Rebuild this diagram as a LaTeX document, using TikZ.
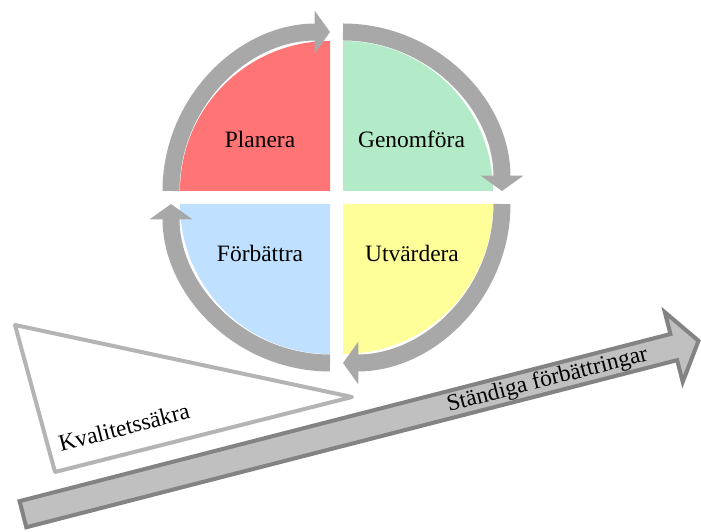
\documentclass[tikz,border=0pt]{standalone}
\usepackage{fontspec}
\setmainfont{Liberation Serif}
\usepackage{tikz}
\usetikzlibrary{arrows.meta,calc}
\definecolor{planred}{HTML}{FF7575}
\definecolor{gengreen}{HTML}{B3EBC8}
\definecolor{forblue}{HTML}{C0E0FF}
\definecolor{utvyellow}{HTML}{FFFF99}
\definecolor{cycgray}{HTML}{A8A8A8}
\definecolor{trigray}{HTML}{B4B4B4}
\definecolor{arrfill}{HTML}{C0C0C0}
\definecolor{arrdraw}{HTML}{838383}
\newcommand{\lbl}{\fontsize{17.6}{20}\selectfont}

\begin{document}
\begin{tikzpicture}[x=0.75pt,y=0.75pt,>={Triangle[width=31.5pt,length=11.5pt]},
  cyc/.style={->,draw=cycgray,line width=12.75pt},
  word/.style={font=\lbl,anchor=base,inner sep=0pt}]
\useasboundingbox (0,0) rectangle (701,532);
\newcommand*{\rquad}{112.5pt}; \newcommand*{\rcyc}{119.25pt};
\coordinate (pl) at (330,341);
\coordinate (ge) at (343,341);
\coordinate (ut) at (343,328);
\coordinate (fo) at (330,328);
% quadrants
\fill[planred] (pl) -- ++(-150,0) arc[start angle=180,end angle=90,radius=\rquad] -- cycle;
\fill[gengreen] (ge) -- ++(0,150) arc[start angle=90,end angle=0,radius=\rquad] -- cycle;
\fill[utvyellow] (ut) -- ++(150,0) arc[start angle=0,end angle=-90,radius=\rquad] -- cycle;
\fill[forblue] (fo) -- ++(0,-150) arc[start angle=270,end angle=180,radius=\rquad] -- cycle;
% cycle arrows
\draw[cyc] ($(pl)+(-159,0)$) arc[start angle=180,end angle=90,radius=\rcyc];
\draw[cyc] ($(ge)+(0,159)$) arc[start angle=90,end angle=0,radius=\rcyc];
\draw[cyc] ($(ut)+(159,0)$) arc[start angle=0,end angle=-90,radius=\rcyc];
\draw[cyc] ($(fo)+(0,-159)$) arc[start angle=270,end angle=180,radius=\rcyc];
\node[word] (planera) at (260,384) {Planera};
\node[word] (genomfora) at (411.5,384) {Genomföra};
\node[word] (forbattra) at (260,270) {Förbättra};
\node[word] (utvardera) at (412,270) {Utvärdera};
% quality wedge
\coordinate (ta) at (15,207); \coordinate (tb) at (352,135); \coordinate (tc) at (55,60);
\draw[draw=trigray,line width=3pt,line join=round,fill=white] (ta) -- (tb) -- (tc) -- cycle;
\node[word,rotate=14.5] (kval) at (126,97) {Kvalitetssäkra};
% improvement arrow
\begin{scope}[shift={(21,17.3)},rotate=14.4]
\draw[draw=arrdraw,fill=arrfill,line width=3pt] (2,-13.5) -- (674,-13.5) -- (674,-36)
  -- (699.5,0) -- (674,36) -- (674,13.5) -- (2,13.5) -- cycle;
\end{scope}
\node[word,rotate=14.5] (standiga) at (549,146) {Ständiga förbättringar};
\end{tikzpicture}
\end{document}
